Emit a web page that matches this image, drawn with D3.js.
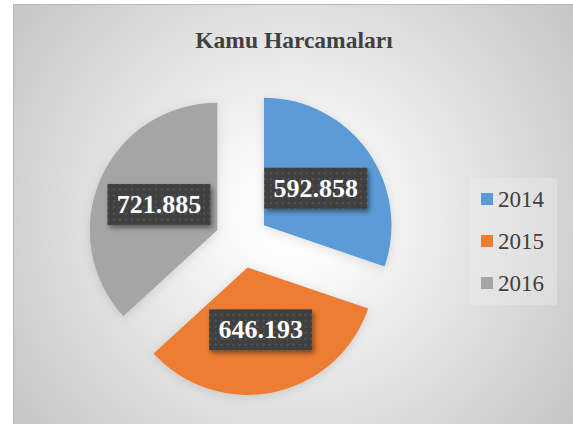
<!DOCTYPE html>
<html>
<head>
<meta charset="utf-8">
<script src="https://cdn.jsdelivr.net/npm/d3@7"></script>
<style>
  html, body { margin: 0; padding: 0; background: #ffffff; }
  svg { display: block; }
</style>
</head>
<body>
<div id="chart"></div>
<script>
const title = "Kamu Harcamaları";
const categories = ["2014", "2015", "2016"];
const values = [592.858, 646.193, 721.885];
const valueLabels = ["592.858", "646.193", "721.885"];
const colors = ["#5B9BD5", "#ED7D31", "#A5A5A5"];

const W = 573, H = 424;
const svg = d3.select("#chart").append("svg").attr("width", W).attr("height", H);
const defs = svg.append("defs");

const grad = defs.append("radialGradient").attr("id", "bg")
  .attr("gradientUnits", "userSpaceOnUse")
  .attr("cx", 293).attr("cy", 215).attr("r", 360);
grad.append("stop").attr("offset", "0").attr("stop-color", "#ffffff");
grad.append("stop").attr("offset", "0.15").attr("stop-color", "#fbfbfb");
grad.append("stop").attr("offset", "1").attr("stop-color", "#c3c3c3");

const pat = defs.append("pattern").attr("id", "dots")
  .attr("patternUnits", "userSpaceOnUse").attr("width", 6).attr("height", 6);
pat.append("rect").attr("width", 6).attr("height", 6).attr("fill", "#404040");
pat.append("rect").attr("x", 2).attr("y", 2).attr("width", 2).attr("height", 2).attr("fill", "#545454");

const sh = defs.append("filter").attr("id", "shadow")
  .attr("x", "-20%").attr("y", "-20%").attr("width", "140%").attr("height", "140%");
sh.append("feDropShadow").attr("dx", 2).attr("dy", 3).attr("stdDeviation", 2.5)
  .attr("flood-color", "#000").attr("flood-opacity", 0.45);

const sh2 = defs.append("filter").attr("id", "pieshadow")
  .attr("x", "-20%").attr("y", "-20%").attr("width", "140%").attr("height", "140%");
sh2.append("feDropShadow").attr("dx", 0).attr("dy", 2).attr("stdDeviation", 5)
  .attr("flood-color", "#000").attr("flood-opacity", 0.12);

// chart area
svg.append("rect").attr("x", 13.5).attr("y", 4.5).attr("width", 620).attr("height", 450)
  .attr("fill", "url(#bg)").attr("stroke", "#b8b8b8").attr("stroke-width", 1);

// title
svg.append("text").attr("x", 294).attr("y", 48).attr("text-anchor", "middle")
  .attr("font-family", "'Liberation Serif', 'Times New Roman', serif")
  .attr("font-weight", "bold").attr("font-size", 23.5).attr("fill", "#404040")
  .text(title);

// pie
const cx = 242, cy = 241, R = 127.5, explode = 27;
const pie = d3.pie().sort(null).value(d => d)(values);
const arc = d3.arc().innerRadius(0).outerRadius(R);

const g = svg.append("g").attr("transform", `translate(${cx},${cy})`);
const slices = g.selectAll("g.slice").data(pie).join("g").attr("class", "slice")
  .attr("transform", d => {
    const m = (d.startAngle + d.endAngle) / 2;
    return `translate(${Math.sin(m) * explode},${-Math.cos(m) * explode})`;
  });
slices.append("path").attr("d", arc).attr("fill", (d, i) => colors[i])
  .attr("filter", "url(#pieshadow)");

// labels
const bw = 103, bh = 41;
const lab = g.selectAll("g.lab").data(pie).join("g").attr("class", "lab")
  .attr("transform", d => {
    const m = (d.startAngle + d.endAngle) / 2;
    const c = arc.centroid(d);
    return `translate(${Math.sin(m) * explode + c[0]},${-Math.cos(m) * explode + c[1]})`;
  });
lab.append("rect").attr("x", -bw / 2).attr("y", -bh / 2).attr("width", bw).attr("height", bh)
  .attr("fill", "url(#dots)").attr("filter", "url(#shadow)");
lab.append("text").attr("text-anchor", "middle").attr("y", 8.5)
  .attr("font-family", "'Liberation Serif', 'Times New Roman', serif")
  .attr("font-weight", "bold").attr("font-size", 26).attr("fill", "#ffffff")
  .text((d, i) => valueLabels[i]);

// legend
svg.append("rect").attr("x", 470).attr("y", 178).attr("width", 87).attr("height", 127)
  .attr("fill", "#f0f0f0").attr("opacity", 0.35);
const lg = svg.selectAll("g.leg").data(categories).join("g").attr("class", "leg")
  .attr("transform", (d, i) => `translate(481,${199 + i * 42})`);
lg.append("rect").attr("x", 0).attr("y", -6).attr("width", 12).attr("height", 12)
  .attr("fill", (d, i) => colors[i]);
lg.append("text").attr("x", 17).attr("y", 8)
  .attr("font-family", "'Liberation Serif', 'Times New Roman', serif")
  .attr("font-size", 23).attr("fill", "#404040").text(d => d);
</script>
</body>
</html>
